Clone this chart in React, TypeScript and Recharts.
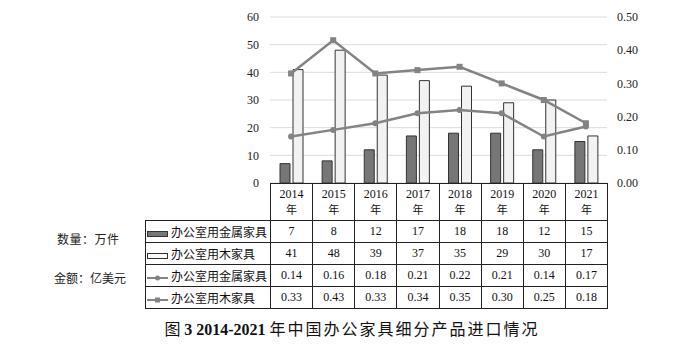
import { ComposedChart, Bar, Line, YAxis, XAxis, CartesianGrid } from "recharts"

const years = ["2014", "2015", "2016", "2017", "2018", "2019", "2020", "2021"]
const metalQty = [7, 8, 12, 17, 18, 18, 12, 15]
const woodQty = [41, 48, 39, 37, 35, 29, 30, 17]
const metalValue = [0.14, 0.16, 0.18, 0.21, 0.22, 0.21, 0.14, 0.17]
const woodValue = [0.33, 0.43, 0.33, 0.34, 0.35, 0.3, 0.25, 0.18]
const qtyTicks = [0, 10, 20, 30, 40, 50, 60]
const valueTicks = [0, 0.1, 0.2, 0.3, 0.4, 0.5]

const seriesNames = ["办公室用金属家具", "办公室用木家具", "办公室用金属家具", "办公室用木家具"]

const W = 680
const H = 351
const PLOT_LEFT = 270
const PLOT_RIGHT = 607
const PLOT_TOP = 17
const PLOT_BOTTOM = 183
const COL_W = (PLOT_RIGHT - PLOT_LEFT) / years.length
const LEGEND_W = 125
const SERIF = '"Liberation Serif", "Times New Roman", "Noto Sans CJK SC", serif'
const CJK = '"Noto Sans CJK SC", sans-serif'

const LINE_GRAY = "#838383"

const data = years.map((y, i) => ({
  year: y,
  metalQty: metalQty[i],
  woodQty: woodQty[i],
  metalValue: metalValue[i],
  woodValue: woodValue[i],
}))

const SquareDot = (props: any) => {
  const { cx, cy } = props
  if (cx == null || cy == null) return null
  return <rect x={cx - 3} y={cy - 3} width={6} height={6} fill={LINE_GRAY} />
}

const CircleDot = (props: any) => {
  const { cx, cy } = props
  if (cx == null || cy == null) return null
  return <circle cx={cx} cy={cy} r={3} fill={LINE_GRAY} />
}

function LegendIcon({ kind }: { kind: number }) {
  return (
    <svg width={22} height={10} style={{ verticalAlign: "middle", marginRight: 2 }}>
      {kind === 0 && <rect x={0.5} y={2.5} width={20} height={5} fill="#767676" stroke="#333" />}
      {kind === 1 && <rect x={0.5} y={2.5} width={20} height={5} fill="#fafafa" stroke="#333" />}
      {kind >= 2 && <line x1={0} x2={21} y1={5} y2={5} stroke={LINE_GRAY} strokeWidth={2} />}
      {kind === 2 && <circle cx={10.5} cy={5} r={2.5} fill={LINE_GRAY} />}
      {kind === 3 && <rect x={8} y={2.5} width={5} height={5} fill={LINE_GRAY} />}
    </svg>
  )
}

const rows = [metalQty, woodQty, metalValue, woodValue]

export default function App() {
  const cell: React.CSSProperties = {
    border: "1px solid #222",
    padding: 0,
    textAlign: "center",
    fontFamily: SERIF,
    fontSize: 12,
    color: "#111",
  }
  return (
    <div style={{ position: "absolute", left: 0, top: 0, width: W, height: H, background: "#fff" }}>
      <ComposedChart
        width={W}
        height={H}
        data={data}
        margin={{ top: PLOT_TOP, left: PLOT_LEFT - 40, right: W - PLOT_RIGHT - 60, bottom: H - PLOT_BOTTOM }}
        barGap={3}
      >
        <CartesianGrid vertical={false} stroke="#dcdcdc" yAxisId="qty" />
        <XAxis dataKey="year" hide />
        <YAxis
          yAxisId="qty"
          width={40}
          domain={[0, 60]}
          ticks={qtyTicks}
          axisLine={false}
          tickLine={false}
          tickMargin={5}
          tick={{ fontFamily: SERIF, fontSize: 12, fill: "#222" }}
        />
        <YAxis
          yAxisId="value"
          orientation="right"
          width={60}
          domain={[0, 0.5]}
          ticks={valueTicks}
          axisLine={false}
          tickLine={false}
          tickMargin={4}
          tickFormatter={(v: number) => v.toFixed(2)}
          tick={{ fontFamily: SERIF, fontSize: 12, fill: "#222", textAnchor: "start" }}
        />
        <Bar yAxisId="qty" dataKey="metalQty" barSize={10} fill="#767676" stroke="#333" isAnimationActive={false} />
        <Bar yAxisId="qty" dataKey="woodQty" barSize={10} fill="#f2f2f2" stroke="#333" isAnimationActive={false} />
        <Line
          yAxisId="value"
          dataKey="metalValue"
          stroke={LINE_GRAY}
          strokeWidth={2.5}
          dot={<CircleDot />}
          activeDot={false}
          isAnimationActive={false}
        />
        <Line
          yAxisId="value"
          dataKey="woodValue"
          stroke={LINE_GRAY}
          strokeWidth={2.5}
          dot={<SquareDot />}
          activeDot={false}
          isAnimationActive={false}
        />
      </ComposedChart>

      <table
        style={{
          position: "absolute",
          left: PLOT_LEFT - LEGEND_W,
          top: PLOT_BOTTOM,
          borderCollapse: "collapse",
          tableLayout: "fixed",
          width: LEGEND_W + COL_W * years.length,
        }}
      >
        <colgroup>
          <col style={{ width: LEGEND_W }} />
          {years.map((y) => (
            <col key={y} style={{ width: COL_W }} />
          ))}
        </colgroup>
        <tbody>
          <tr style={{ height: 37 }}>
            <td style={{ padding: 0, border: "none" }} />
            {years.map((y) => (
              <td key={y} style={{ ...cell, lineHeight: "15px" }}>
                {y}
                <br />
                <span style={{ fontFamily: CJK, fontSize: 11 }}>年</span>
              </td>
            ))}
          </tr>
          {rows.map((vals, r) => (
            <tr key={r} style={{ height: 22 }}>
              <td style={{ ...cell, textAlign: "left", fontFamily: CJK, whiteSpace: "nowrap", paddingLeft: 1 }}>
                <LegendIcon kind={r} />
                {seriesNames[r]}
              </td>
              {vals.map((v, i) => (
                <td key={i} style={cell}>
                  {r >= 2 ? v.toFixed(2) : v}
                </td>
              ))}
            </tr>
          ))}
        </tbody>
      </table>

      <div
        style={{ position: "absolute", left: 57, top: 230, fontFamily: CJK, fontSize: 12, letterSpacing: 0.5, color: "#222" }}
      >
        数量：万件
      </div>
      <div style={{ position: "absolute", left: 54, top: 269, fontFamily: CJK, fontSize: 12, color: "#222" }}>
        金额：亿美元
      </div>

      <div
        style={{
          position: "absolute",
          left: 12,
          width: W,
          top: 316,
          textAlign: "center",
          fontSize: 16,
          color: "#111",
        }}
      >
        <span style={{ fontFamily: CJK }}>图 </span>
        <span style={{ fontFamily: SERIF, fontWeight: "bold" }}>3 2014-2021 </span>
        <span style={{ fontFamily: CJK, letterSpacing: 2 }}>年中国办公家具细分产品进口情况</span>
      </div>
    </div>
  )
}
